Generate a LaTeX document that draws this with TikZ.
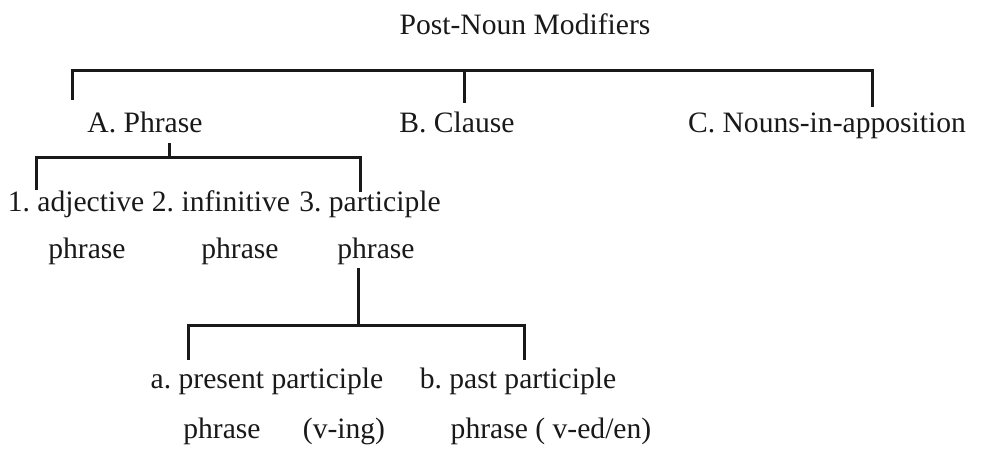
\documentclass[tikz,border=0pt]{standalone}
\usepackage{fontspec}
\setmainfont{Liberation Serif}
\usetikzlibrary{positioning}
\frenchspacing

\begin{document}
\begin{tikzpicture}[
    x=0.5pt, y=-0.5pt,
    lbl/.style={inner sep=0pt, anchor=base, text=black!90, font=\fontsize{14.8}{17}\selectfont},
    brk/.style={draw=black!90, line width=1.5pt},
  ]
  \useasboundingbox (0,0) rectangle (981,456);
  % labels
  \node[lbl] (post)    at (525,34)  {Post-Noun Modifiers};
  \node[lbl] (phrase)  at (145,132) {A. Phrase};
  \node[lbl] (clause)  at (457,132) {B. Clause};
  \node[lbl] (nouns)   at (827,132) {C. Nouns-in-apposition};
  \node[lbl] (adj)     at (76,211)  {1. adjective};
  \node[lbl] (inf)     at (221,211) {2. infinitive};
  \node[lbl] (part)    at (370,211) {3. participle};
  \node[lbl] (adjp)    at (87,258)  {phrase};
  \node[lbl] (infp)    at (240,258) {phrase};
  \node[lbl] (partp)   at (376,258) {phrase};
  \node[lbl] (pres)    at (267,388) {a. present participle};
  \node[lbl] (past)    at (518,388) {b. past participle};
  \node[lbl] (presp)   at (222,438) {phrase};
  \node[lbl] (ving)    at (344,438) {(v-ing)};
  \node[lbl] (pastp)   at (551,438) {phrase ( v-ed/en)};
  % top bracket
  \coordinate (t1) at (72,100);
  \coordinate (t2) at (464,103);
  \coordinate (t3) at (872,107);
  \draw[brk] (t1) |- (t3 |- 0,70) -- (t3);
  \draw[brk] (t2 |- 0,70) -- (t2);
  % bracket under A. Phrase
  \coordinate (a0) at (169,143);
  \coordinate (a1) at (36,190);
  \coordinate (a2) at (360,192);
  \draw[brk] (a0) -- (a0 |- 0,157);
  \draw[brk] (a1) |- (a2 |- 0,157) -- (a2);
  % bracket under participle phrase
  \coordinate (p0) at (358,268);
  \coordinate (p1) at (188,360);
  \coordinate (p2) at (524,360);
  \draw[brk] (p0) -- (p0 |- 0,325);
  \draw[brk] (p1) |- (p2 |- 0,325) -- (p2);
\end{tikzpicture}
\end{document}
